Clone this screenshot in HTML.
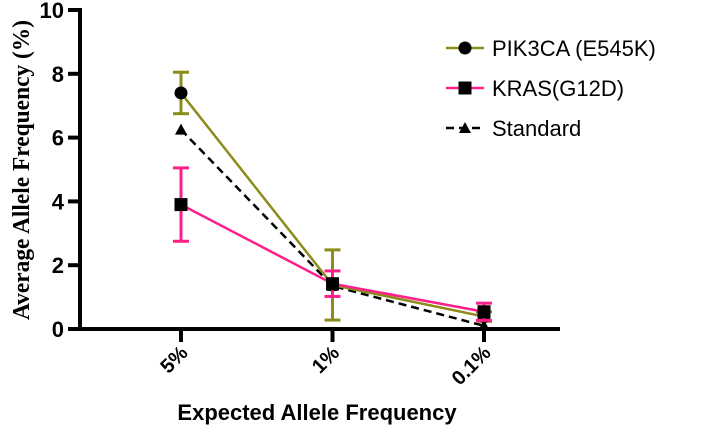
<!DOCTYPE html>
<html><head><meta charset="utf-8"><style>body{margin:0;background:#fff}svg{display:block}</style></head>
<body>
<svg id="c" width="709" height="440" xmlns="http://www.w3.org/2000/svg"></svg>
<script>
const categories=["5%","1%","0.1%"];
const yTicks=[0,2,4,6,8,10];
const pikValues=[7.4,1.38,0.39];
const pikErr=[0.65,1.1,0.15];
const krasValues=[3.9,1.42,0.54];
const krasErr=[1.15,0.4,0.27];
const stdValues=[6.25,1.35,0.1];
const NS="http://www.w3.org/2000/svg";
const svg=document.getElementById('c');
const y=v=>329-v*31.9;
const x=i=>181+i*151.5;
function el(t,a,p){const e=document.createElementNS(NS,t);for(const k in a)e.setAttribute(k,a[k]);(p||svg).appendChild(e);return e;}
let ax=el('line',{x1:80,y1:8,x2:80,y2:331,stroke:'#000','stroke-width':4});

let bx=el('line',{x1:78,y1:329,x2:560,y2:329,stroke:'#000','stroke-width':4});

yTicks.forEach(v=>{
 let l=el('line',{x1:68,y1:y(v),x2:80,y2:y(v),stroke:'#000','stroke-width':4});
 
 let t=el('text',{x:64,y:y(v)+8,'text-anchor':'end','font-family':'Liberation Sans, sans-serif','font-weight':'bold','font-size':22});
 t.textContent=v;
});
categories.forEach((c,i)=>{
 let l=el('line',{x1:x(i),y1:329,x2:x(i),y2:342,stroke:'#000','stroke-width':4});
 
 let t=el('text',{x:x(i)+8,y:354,'text-anchor':'end','font-family':'Liberation Sans, sans-serif','font-weight':'bold','font-size':20,transform:`rotate(-45 ${x(i)+8} 354)`});
 t.textContent=c;
});
let yt=el('text',{x:0,y:0,'text-anchor':'middle','font-family':'Liberation Serif, serif','font-weight':'bold','font-size':24,textLength:300,lengthAdjust:'spacingAndGlyphs',transform:'translate(29 170) rotate(-90)'});
yt.textContent='Average Allele Frequency (%)';
let xt=el('text',{x:317,y:420,'text-anchor':'middle','font-family':'Liberation Sans, sans-serif','font-weight':'bold','font-size':22});
xt.textContent='Expected Allele Frequency';
function marker(type,cx,cy,g){
 if(type==='circle')return el('circle',{cx,cy,r:6.5,fill:'#000'},g);
 if(type==='square')return el('rect',{x:cx-6.5,y:cy-6.5,width:13,height:13,fill:'#000'},g);
 return el('polygon',{points:`${cx},${cy-6} ${cx-6},${cy+5} ${cx+6},${cy+5}`,fill:'#000'},g);
}
function series(name,vals,errs,color,type,dash){
 const g=el('g',{});
 if(errs)vals.forEach((v,i)=>{
  const t=y(v+errs[i]),b=y(Math.max(0,v-errs[i]));
  el('line',{x1:x(i),y1:t,x2:x(i),y2:b,stroke:color,'stroke-width':3},g);
  el('line',{x1:x(i)-8,y1:t,x2:x(i)+8,y2:t,stroke:color,'stroke-width':3},g);
  el('line',{x1:x(i)-8,y1:b,x2:x(i)+8,y2:b,stroke:color,'stroke-width':3},g);
 });
 const p=el('polyline',{points:vals.map((v,i)=>x(i)+','+y(v)).join(' '),fill:'none',stroke:color,'stroke-width':2.5,'stroke-dasharray':dash||'none'},g);
 
 vals.forEach((v,i)=>{const m=marker(type,x(i),y(v),g);});
}
series('standard',stdValues,null,'#000','tri','8,5');
series('pik3ca',pikValues,pikErr,'#8c8c1c','circle');
series('kras',krasValues,krasErr,'#ff1f8a','square');
const leg=[['PIK3CA (E545K)','#8c8c1c','circle',null,48],['KRAS(G12D)','#ff1f8a','square',null,88],['Standard','#000','tri','8,5',128]];
leg.forEach(l=>{
 const g=el('g',{});
 el('line',{x1:446,y1:l[4],x2:484,y2:l[4],stroke:l[1],'stroke-width':2.5,'stroke-dasharray':l[3]||'none'},g);
 marker(l[2],465,l[4],g);
 const t=el('text',{x:492,y:l[4]+8,'font-family':'Liberation Sans, sans-serif','font-size':22},g);t.textContent=l[0];
});
</script>
</body></html>
